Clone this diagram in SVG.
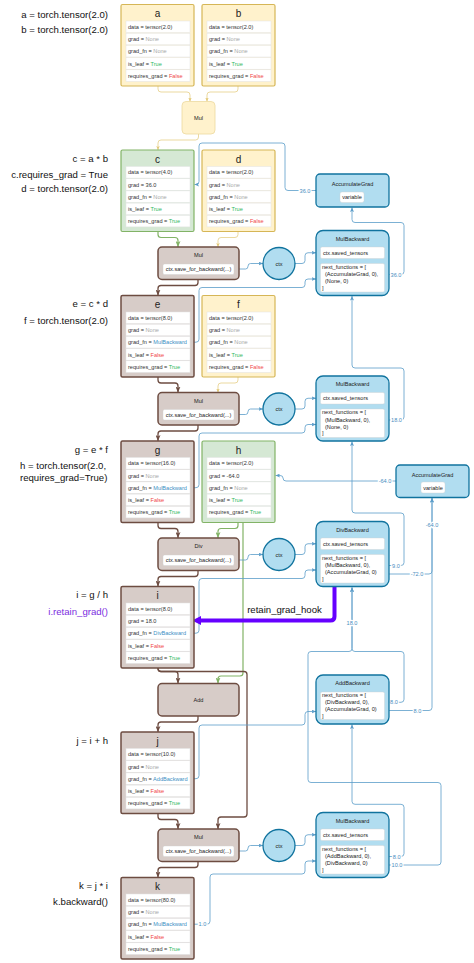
<svg xmlns="http://www.w3.org/2000/svg" xmlns:xlink="http://www.w3.org/1999/xlink" width="474" height="963" viewBox="0 0 474 963">
<style>
text{font-family:"Liberation Sans",Arial,sans-serif;}
.lbl{font-size:9.6px;fill:#111;}
.row{fill:#fff;stroke:#e3e3e3;stroke-width:0.5;}
.rt{font-size:5.6px;fill:#333;}
.none{fill:#a8a8a8;}
.tr{fill:#2eb85c;}
.fa{fill:#f04848;}
.fn{fill:#3d8fc4;}
.yel{fill:#fff2cc;stroke:#d6b656;stroke-width:1.2;}
.yop{fill:#fff2cc;stroke:#ecd9a0;stroke-width:0.8;}
.grn{fill:#d5e8d4;stroke:#82b366;stroke-width:1.2;}
.brn{fill:#d7ccc8;stroke:#6d4c41;stroke-width:1.5;}
.blu{fill:#b1ddf0;stroke:#10739e;stroke-width:1.3;}
.ttl{font-size:10px;fill:#222;text-anchor:middle;}
.st{font-size:5.6px;fill:#222;}
.stc{font-size:5.6px;fill:#222;text-anchor:middle;}
.ib{fill:#fff;stroke:#d0d0d0;stroke-width:0.4;}
.cb{fill:none;stroke:#5b9dc9;stroke-width:0.8;marker-end:url(#mb);}
.cbn{fill:none;stroke:#5b9dc9;stroke-width:0.8;}
.cbr{fill:none;stroke:#6d4c41;stroke-width:1.3;marker-end:url(#mbr);}
.cg{fill:none;stroke:#82b366;stroke-width:1.2;marker-end:url(#mg);}
.cy{fill:none;stroke:#e3c977;stroke-width:0.7;marker-end:url(#my);}
.el{font-size:5.6px;fill:#4a8dc0;text-anchor:middle;stroke:#fff;stroke-width:2.5;paint-order:stroke;}
</style>
<defs>
<g id="rows">
<rect class="row" x="5" y="16.5" width="64" height="11.6"/>
<rect class="row" x="5" y="28.7" width="64" height="11.6"/>
<rect class="row" x="5" y="40.9" width="64" height="11.6"/>
<rect class="row" x="5" y="53.1" width="64" height="11.6"/>
<rect class="row" x="5" y="65.3" width="64" height="11.6"/>
</g>
<marker id="mb" markerUnits="userSpaceOnUse" markerWidth="5" markerHeight="4" refX="4.5" refY="2" orient="auto"><path d="M0,0 L4.5,2 L0,4 L1,2 Z" fill="#5b9dc9"/></marker>
<marker id="mbr" markerUnits="userSpaceOnUse" markerWidth="6" markerHeight="5" refX="6" refY="2.5" orient="auto"><path d="M0,0 L6,2.5 L0,5 L1.5,2.5 Z" fill="#6d4c41"/></marker>
<marker id="mg" markerUnits="userSpaceOnUse" markerWidth="6" markerHeight="5" refX="6" refY="2.5" orient="auto"><path d="M0,0 L6,2.5 L0,5 L1.5,2.5 Z" fill="#82b366"/></marker>
<marker id="my" markerUnits="userSpaceOnUse" markerWidth="4" markerHeight="3.5" refX="4" refY="1.75" orient="auto"><path d="M0,0 L4,1.75 L0,3.5 L1,1.75 Z" fill="#e3c977"/></marker>
<marker id="mp" markerUnits="userSpaceOnUse" markerWidth="9" markerHeight="10" refX="1" refY="5" orient="auto"><path d="M0,0.5 L9,5 L0,9.5 Z" fill="#6600ff"/></marker>
</defs>
<rect width="474" height="963" fill="#fff"/>

<g id="code-labels">
<text class="lbl" x="108" y="17.5" text-anchor="end">a = torch.tensor(2.0)</text>
<text class="lbl" x="108" y="32.5" text-anchor="end">b = torch.tensor(2.0)</text>
<text class="lbl" x="108" y="161.5" text-anchor="end">c = a * b</text>
<text class="lbl" x="108" y="177.5" text-anchor="end">c.requires_grad = True</text>
<text class="lbl" x="108" y="191.5" text-anchor="end">d = torch.tensor(2.0)</text>
<text class="lbl" x="108" y="306.5" text-anchor="end">e = c * d</text>
<text class="lbl" x="108" y="323.5" text-anchor="end">f = torch.tensor(2.0)</text>
<text class="lbl" x="108" y="452.5" text-anchor="end">g = e * f</text>
<text class="lbl" x="20" y="468.5">h = torch.tensor(2.0,</text>
<text class="lbl" x="20" y="480.5">requires_grad=True)</text>
<text class="lbl" x="108" y="597.8" text-anchor="end">i = g / h</text>
<text class="lbl" x="108" y="615.2" text-anchor="end" style="fill:#7b2ee0">i.retain_grad()</text>
<text class="lbl" x="108" y="743.5" text-anchor="end">j = i + h</text>
<text class="lbl" x="108" y="889.2" text-anchor="end">k = j * i</text>
<text class="lbl" x="108" y="905.2" text-anchor="end">k.backward()</text>
</g>

<g id="connectors">
<path class="cy" d="M158 86 V89 Q158 92 161 92 H187 Q190 92 190 95 V101.5"/>
<path class="cy" d="M238 86 V89 Q238 92 235 92 H210 Q207 92 207 95 V101.5"/>
<path class="cy" d="M198.5 134 V137 Q198.5 140 195.5 140 H161 Q158 140 158 143 V150"/>
<path class="cy" d="M238 231.5 V234.5 Q238 237.5 235 237.5 H221 Q218 237.5 218 240.5 V247"/>
<path class="cy" d="M238 377 V380 Q238 383 235 383 H221 Q218 383 218 386 V392.5"/>
<path class="cg" d="M158 231.5 V234.5 Q158 237.5 161 237.5 H175 Q178 237.5 178 240.5 V247"/>
<path class="cg" d="M238 522.5 V525.5 Q238 528.5 235 528.5 H221 Q218 528.5 218 531.5 V538"/>
<path class="cg" d="M243 522.5 V673 Q243 676 240 676 H221 Q218 676 218 679 V683.5"/>
<path class="cbr" d="M198 279.5 V282.5 Q198 285.5 195 285.5 H161 Q158 285.5 158 288.5 V295.5"/>
<path class="cbr" d="M158 377 V380 Q158 383 161 383 H175 Q178 383 178 386 V392.5"/>
<path class="cbr" d="M198 425 V428 Q198 431 195 431 H161 Q158 431 158 434 V441"/>
<path class="cbr" d="M158 522.5 V525.5 Q158 528.5 161 528.5 H175 Q178 528.5 178 531.5 V538"/>
<path class="cbr" d="M198 570.5 V573.5 Q198 576.5 195 576.5 H161 Q158 576.5 158 579.5 V586.5"/>
<path class="cbr" d="M158 668 V668.5 Q158 671.5 161 671.5 H175 Q178 671.5 178 674.5 V683.5"/>
<path class="cbr" d="M158 668 V668.5 Q158 671.5 161 671.5 H244 Q247 671.5 247 674.5 V814 Q247 817 244 817 H221 Q218 817 218 820 V829"/>
<path class="cbr" d="M198 716 V719 Q198 722 195 722 H161 Q158 722 158 725 V732"/>
<path class="cbr" d="M158 813.5 V816.5 Q158 819.5 161 819.5 H175 Q178 819.5 178 822.5 V829"/>
<path class="cbr" d="M198 861.5 V864.5 Q198 867.5 195 867.5 H161 Q158 867.5 158 870.5 V877.5"/>
<path class="cb" d="M239 269 H245.5 Q248 269 248 266.25 Q248 263.5 250.5 263.5 H263"/>
<path class="cb" d="M239 414.5 H245.5 Q248 414.5 248 411.75 Q248 409 250.5 409 H263"/>
<path class="cb" d="M239 560 H245.5 Q248 560 248 557.25 Q248 554.5 250.5 554.5 H263"/>
<path class="cb" d="M239 851 H245.5 Q248 851 248 848.25 Q248 845.5 250.5 845.5 H263"/>
<path class="cb" d="M295 263.5 H302 Q305 263.5 305 260.5 V255.75 Q305 252.75 308 252.75 H316"/>
<path class="cb" d="M295 409 H302 Q305 409 305 406 V401.25 Q305 398.25 308 398.25 H316"/>
<path class="cb" d="M295 554.5 H302 Q305 554.5 305 551.5 V546.75 Q305 543.75 308 543.75 H316"/>
<path class="cb" d="M295 845.5 H302 Q305 845.5 305 842.5 V837.75 Q305 834.75 308 834.75 H316"/>
<path class="cb" d="M194 342.2 H196 Q199 342.2 199 339.2 V290.5 Q199 287.5 202 287.5 H302 Q305 287.5 305 284.5 V282 Q305 279 308 279 H316"/>
<path class="cb" d="M194 487.7 H196 Q199 487.7 199 484.7 V436 Q199 433 202 433 H302 Q305 433 305 430 V427.5 Q305 424.5 308 424.5 H316"/>
<path class="cb" d="M194 633.2 H196 Q199 633.2 199 630.2 V581.5 Q199 578.5 202 578.5 H302 Q305 578.5 305 575.5 V573 Q305 570 308 570 H316"/>
<path class="cb" d="M194 778.7 H196 Q199 778.7 199 775.7 V728 Q199 725 202 725 H302 Q305 725 305 722 V714.5 Q305 711.5 308 711.5 H316"/>
<path class="cb" d="M194 924.2 H207 Q210 924.2 210 921.2 V877 Q210 874 213 874 H302 Q305 874 305 871 V864 Q305 861 308 861 H316"/>
<path class="cb" d="M316 190.5 H288 Q285 190.5 285 187.5 V146 Q285 143 282 143 H202 Q199 143 199 146 V181.5 Q199 184.5 196 184.5 H194.5"/>
<path class="cb" d="M384 274.5 H401 Q404 274.5 404 271.5 V225.5 Q404 222.5 401 222.5 H355 Q352 222.5 352 219.5 V207.5"/>
<path class="cb" d="M384 420 H401 Q404 420 404 417 V371 Q404 368 401 368 H355 Q352 368 352 365 V296"/>
<path class="cb" d="M384 565.5 H401 Q404 565.5 404 562.5 V516 Q404 513 401 513 H355 Q352 513 352 510 V441.5"/>
<path class="cb" d="M384 574 H429 Q432 574 432 571 V498"/>
<path class="cb" d="M384 710.5 H429 Q432 710.5 432 707.5 V498"/>
<path class="cb" d="M396 481 H286 Q283 481 283 478 Q283 475.5 280 475.5 H275.5"/>
<path class="cb" d="M384 702.3 H401 Q404 702.3 404 699.3 V654.5 Q404 651.5 401 651.5 H355 Q352 651.5 352 648.5 V587.5"/>
<path class="cb" d="M384 865 H438 Q441 865 441 862 V785.5 Q441 782.5 438 782.5 H311 Q308 782.5 308 779.5 V654.5 Q308 651.5 311 651.5 H349 Q352 651.5 352 648.5 V587.5"/>
<path class="cb" d="M384 856.5 H401 Q404 856.5 404 853.5 V807.3 Q404 804.3 401 804.3 H355 Q352 804.3 352 801.3 V724.5"/>
<path d="M334.5 587 V616.5 Q334.5 620.5 330.5 620.5 H200" fill="none" stroke="#6600ff" stroke-width="4" marker-end="url(#mp)"/>
<text class="lbl" x="284.5" y="612.5" text-anchor="middle">retain_grad_hook</text>
<text class="el" x="305" y="192.5">36.0</text>
<text class="el" x="396" y="276.5">36.0</text>
<text class="el" x="396.5" y="422">18.0</text>
<text class="el" x="385" y="483">-64.0</text>
<text class="el" x="396" y="567.5">9.0</text>
<text class="el" x="417" y="576">-72.0</text>
<text class="el" x="432" y="527">-64.0</text>
<text class="el" x="352" y="624.7">18.0</text>
<text class="el" x="394" y="704.3">8.0</text>
<text class="el" x="417.5" y="712.5">8.0</text>
<text class="el" x="396.7" y="858.5">8.0</text>
<text class="el" x="397" y="867">10.0</text>
<text class="el" x="202.5" y="926.2">1.0</text>
</g>

<g id="a" transform="translate(121,4.5)">
<rect class="yel" width="73" height="81.5" rx="1.5"/><text class="ttl" x="36.5" y="12.5">a</text><use href="#rows"/>
<text class="rt" x="7" y="24.4">data = tensor(2.0)</text>
<text class="rt" x="7" y="36.6">grad = <tspan class="none">None</tspan></text>
<text class="rt" x="7" y="48.8">grad_fn = <tspan class="none">None</tspan></text>
<text class="rt" x="7" y="61">is_leaf = <tspan class="tr">True</tspan></text>
<text class="rt" x="7" y="73.2">requires_grad = <tspan class="fa">False</tspan></text>
</g>
<g id="b" transform="translate(202,4.5)">
<rect class="yel" width="73" height="81.5" rx="1.5"/><text class="ttl" x="36.5" y="12.5">b</text><use href="#rows"/>
<text class="rt" x="7" y="24.4">data = tensor(2.0)</text>
<text class="rt" x="7" y="36.6">grad = <tspan class="none">None</tspan></text>
<text class="rt" x="7" y="48.8">grad_fn = <tspan class="none">None</tspan></text>
<text class="rt" x="7" y="61">is_leaf = <tspan class="tr">True</tspan></text>
<text class="rt" x="7" y="73.2">requires_grad = <tspan class="fa">False</tspan></text>
</g>
<g id="mul0" transform="translate(182,101.5)">
<rect class="yop" width="33" height="32.5" rx="4"/><text class="stc" x="16.5" y="18.3">Mul</text>
</g>
<g id="c" transform="translate(121,150)">
<rect class="grn" width="73" height="81.5" rx="1.5"/><text class="ttl" x="36.5" y="12.5">c</text><use href="#rows"/>
<text class="rt" x="7" y="24.4">data = tensor(4.0)</text>
<text class="rt" x="7" y="36.6">grad = 36.0</text>
<text class="rt" x="7" y="48.8">grad_fn = <tspan class="none">None</tspan></text>
<text class="rt" x="7" y="61">is_leaf = <tspan class="tr">True</tspan></text>
<text class="rt" x="7" y="73.2">requires_grad = <tspan class="tr">True</tspan></text>
</g>
<g id="d" transform="translate(202,150)">
<rect class="yel" width="73" height="81.5" rx="1.5"/><text class="ttl" x="36.5" y="12.5">d</text><use href="#rows"/>
<text class="rt" x="7" y="24.4">data = tensor(2.0)</text>
<text class="rt" x="7" y="36.6">grad = <tspan class="none">None</tspan></text>
<text class="rt" x="7" y="48.8">grad_fn = <tspan class="none">None</tspan></text>
<text class="rt" x="7" y="61">is_leaf = <tspan class="tr">True</tspan></text>
<text class="rt" x="7" y="73.2">requires_grad = <tspan class="fa">False</tspan></text>
</g>
<g id="e" transform="translate(121,295.5)">
<rect class="brn" width="73" height="81.5" rx="1.5"/><text class="ttl" x="36.5" y="12.5">e</text><use href="#rows"/>
<text class="rt" x="7" y="24.4">data = tensor(8.0)</text>
<text class="rt" x="7" y="36.6">grad = <tspan class="none">None</tspan></text>
<text class="rt" x="7" y="48.8">grad_fn = <tspan class="fn">MulBackward</tspan></text>
<text class="rt" x="7" y="61">is_leaf = <tspan class="fa">False</tspan></text>
<text class="rt" x="7" y="73.2">requires_grad = <tspan class="tr">True</tspan></text>
</g>
<g id="f" transform="translate(202,295.5)">
<rect class="yel" width="73" height="81.5" rx="1.5"/><text class="ttl" x="36.5" y="12.5">f</text><use href="#rows"/>
<text class="rt" x="7" y="24.4">data = tensor(2.0)</text>
<text class="rt" x="7" y="36.6">grad = <tspan class="none">None</tspan></text>
<text class="rt" x="7" y="48.8">grad_fn = <tspan class="none">None</tspan></text>
<text class="rt" x="7" y="61">is_leaf = <tspan class="tr">True</tspan></text>
<text class="rt" x="7" y="73.2">requires_grad = <tspan class="fa">False</tspan></text>
</g>
<g id="g" transform="translate(121,441)">
<rect class="brn" width="73" height="81.5" rx="1.5"/><text class="ttl" x="36.5" y="12.5">g</text><use href="#rows"/>
<text class="rt" x="7" y="24.4">data = tensor(16.0)</text>
<text class="rt" x="7" y="36.6">grad = <tspan class="none">None</tspan></text>
<text class="rt" x="7" y="48.8">grad_fn = <tspan class="fn">MulBackward</tspan></text>
<text class="rt" x="7" y="61">is_leaf = <tspan class="fa">False</tspan></text>
<text class="rt" x="7" y="73.2">requires_grad = <tspan class="tr">True</tspan></text>
</g>
<g id="h" transform="translate(202,441)">
<rect class="grn" width="73" height="81.5" rx="1.5"/><text class="ttl" x="36.5" y="12.5">h</text><use href="#rows"/>
<text class="rt" x="7" y="24.4">data = tensor(2.0)</text>
<text class="rt" x="7" y="36.6">grad = -64.0</text>
<text class="rt" x="7" y="48.8">grad_fn = <tspan class="none">None</tspan></text>
<text class="rt" x="7" y="61">is_leaf = <tspan class="tr">True</tspan></text>
<text class="rt" x="7" y="73.2">requires_grad = <tspan class="tr">True</tspan></text>
</g>
<g id="i" transform="translate(121,586.5)">
<rect class="brn" width="73" height="81.5" rx="1.5"/><text class="ttl" x="36.5" y="12.5">i</text><use href="#rows"/>
<text class="rt" x="7" y="24.4">data = tensor(8.0)</text>
<text class="rt" x="7" y="36.6">grad = 18.0</text>
<text class="rt" x="7" y="48.8">grad_fn = <tspan class="fn">DivBackward</tspan></text>
<text class="rt" x="7" y="61">is_leaf = <tspan class="fa">False</tspan></text>
<text class="rt" x="7" y="73.2">requires_grad = <tspan class="tr">True</tspan></text>
</g>
<g id="j" transform="translate(121,732)">
<rect class="brn" width="73" height="81.5" rx="1.5"/><text class="ttl" x="36.5" y="12.5">j</text><use href="#rows"/>
<text class="rt" x="7" y="24.4">data = tensor(10.0)</text>
<text class="rt" x="7" y="36.6">grad = <tspan class="none">None</tspan></text>
<text class="rt" x="7" y="48.8">grad_fn = <tspan class="fn">AddBackward</tspan></text>
<text class="rt" x="7" y="61">is_leaf = <tspan class="fa">False</tspan></text>
<text class="rt" x="7" y="73.2">requires_grad = <tspan class="tr">True</tspan></text>
</g>
<g id="k" transform="translate(121,877.5)">
<rect class="brn" width="73" height="81.5" rx="1.5"/><text class="ttl" x="36.5" y="12.5">k</text><use href="#rows"/>
<text class="rt" x="7" y="24.4">data = tensor(80.0)</text>
<text class="rt" x="7" y="36.6">grad = <tspan class="none">None</tspan></text>
<text class="rt" x="7" y="48.8">grad_fn = <tspan class="fn">MulBackward</tspan></text>
<text class="rt" x="7" y="61">is_leaf = <tspan class="fa">False</tspan></text>
<text class="rt" x="7" y="73.2">requires_grad = <tspan class="tr">True</tspan></text>
</g>

<g id="mul1" transform="translate(158,247)">
<rect class="brn" width="81" height="32.5" rx="4"/><text class="stc" x="40.5" y="10">Mul</text>
<rect class="ib" x="5" y="17" width="71" height="10.5" rx="1.5"/><text class="stc" x="40.5" y="24.3">ctx.save_for_backward(...)</text>
</g>
<g id="mul2" transform="translate(158,392.5)">
<rect class="brn" width="81" height="32.5" rx="4"/><text class="stc" x="40.5" y="10">Mul</text>
<rect class="ib" x="5" y="17" width="71" height="10.5" rx="1.5"/><text class="stc" x="40.5" y="24.3">ctx.save_for_backward(...)</text>
</g>
<g id="div" transform="translate(158,538)">
<rect class="brn" width="81" height="32.5" rx="4"/><text class="stc" x="40.5" y="10">Div</text>
<rect class="ib" x="5" y="17" width="71" height="10.5" rx="1.5"/><text class="stc" x="40.5" y="24.3">ctx.save_for_backward(...)</text>
</g>
<g id="add" transform="translate(158,683.5)">
<rect class="brn" width="81" height="32.5" rx="4"/><text class="stc" x="40.5" y="18.3">Add</text>
</g>
<g id="mul3" transform="translate(158,829)">
<rect class="brn" width="81" height="32.5" rx="4"/><text class="stc" x="40.5" y="10">Mul</text>
<rect class="ib" x="5" y="17" width="71" height="10.5" rx="1.5"/><text class="stc" x="40.5" y="24.3">ctx.save_for_backward(...)</text>
</g>

<g id="ctx1"><circle class="blu" cx="279" cy="263.5" r="16"/><text class="stc" x="279" y="265.5">ctx</text></g>
<g id="ctx2"><circle class="blu" cx="279" cy="409" r="16"/><text class="stc" x="279" y="411">ctx</text></g>
<g id="ctx3"><circle class="blu" cx="279" cy="554.5" r="16"/><text class="stc" x="279" y="556.5">ctx</text></g>
<g id="ctx4"><circle class="blu" cx="279" cy="845.5" r="16"/><text class="stc" x="279" y="847.5">ctx</text></g>

<g id="accgrad1" transform="translate(316,174)">
<rect class="blu" width="73" height="33" rx="4"/><text class="stc" x="36.5" y="12">AccumulateGrad</text>
<rect class="ib" x="24" y="18" width="24" height="10.5" rx="2"/><text class="stc" x="36" y="25.2">variable</text>
</g>
<g id="accgrad2" transform="translate(396,465)">
<rect class="blu" width="73" height="32.5" rx="4"/><text class="stc" x="36.5" y="12.3">AccumulateGrad</text>
<rect class="ib" x="25" y="17" width="24" height="11" rx="2"/><text class="stc" x="37" y="24.5">variable</text>
</g>

<g id="mulbackward1" transform="translate(316,230.5)">
<rect class="blu" width="73" height="65" rx="7"/><text class="stc" x="36.5" y="10">MulBackward</text>
<rect class="ib" x="4.5" y="16.5" width="64" height="11.5" rx="1.5"/><text class="st" x="7" y="24.3">ctx.saved_tensors</text>
<rect class="ib" x="4.5" y="33" width="64" height="28.5" rx="1.5"/>
<text class="st" x="6" y="38.3">next_functions = [</text>
<text class="st" x="9" y="45.6">(AccumulateGrad, 0),</text>
<text class="st" x="9" y="52.6">(None, 0)</text>
<text class="st" x="6" y="59.3">]</text>
</g>
<g id="mulbackward2" transform="translate(316,376)">
<rect class="blu" width="73" height="65" rx="7"/><text class="stc" x="36.5" y="10">MulBackward</text>
<rect class="ib" x="4.5" y="16.5" width="64" height="11.5" rx="1.5"/><text class="st" x="7" y="24.3">ctx.saved_tensors</text>
<rect class="ib" x="4.5" y="33" width="64" height="28.5" rx="1.5"/>
<text class="st" x="6" y="38.3">next_functions = [</text>
<text class="st" x="9" y="45.6">(MulBackward, 0),</text>
<text class="st" x="9" y="52.6">(None, 0)</text>
<text class="st" x="6" y="59.3">]</text>
</g>
<g id="divbackward" transform="translate(316,521.5)">
<rect class="blu" width="73" height="65" rx="7"/><text class="stc" x="36.5" y="10">DivBackward</text>
<rect class="ib" x="4.5" y="16.5" width="64" height="11.5" rx="1.5"/><text class="st" x="7" y="24.3">ctx.saved_tensors</text>
<rect class="ib" x="4.5" y="33" width="64" height="28.5" rx="1.5"/>
<text class="st" x="6" y="38.3">next_functions = [</text>
<text class="st" x="9" y="45.6">(MulBackward, 0),</text>
<text class="st" x="9" y="52.6">(AccumulateGrad, 0)</text>
<text class="st" x="6" y="59.3">]</text>
</g>
<g id="addbackward" transform="translate(316,675)">
<rect class="blu" width="73" height="49" rx="7"/><text class="stc" x="36.5" y="10.3">AddBackward</text>
<rect class="ib" x="4.5" y="17" width="64" height="27.5" rx="1.5"/>
<text class="st" x="6" y="22">next_functions = [</text>
<text class="st" x="9" y="29.3">(DivBackward, 0),</text>
<text class="st" x="9" y="36">(AccumulateGrad, 0)</text>
<text class="st" x="6" y="42.5">]</text>
</g>
<g id="mulbackward3" transform="translate(316,812.5)">
<rect class="blu" width="73" height="65" rx="7"/><text class="stc" x="36.5" y="10">MulBackward</text>
<rect class="ib" x="4.5" y="16.5" width="64" height="11.5" rx="1.5"/><text class="st" x="7" y="24.3">ctx.saved_tensors</text>
<rect class="ib" x="4.5" y="33" width="64" height="28.5" rx="1.5"/>
<text class="st" x="6" y="38.3">next_functions = [</text>
<text class="st" x="9" y="45.6">(AddBackward, 0),</text>
<text class="st" x="9" y="52.6">(DivBackward, 0)</text>
<text class="st" x="6" y="59.3">]</text>
</g>
</svg>
